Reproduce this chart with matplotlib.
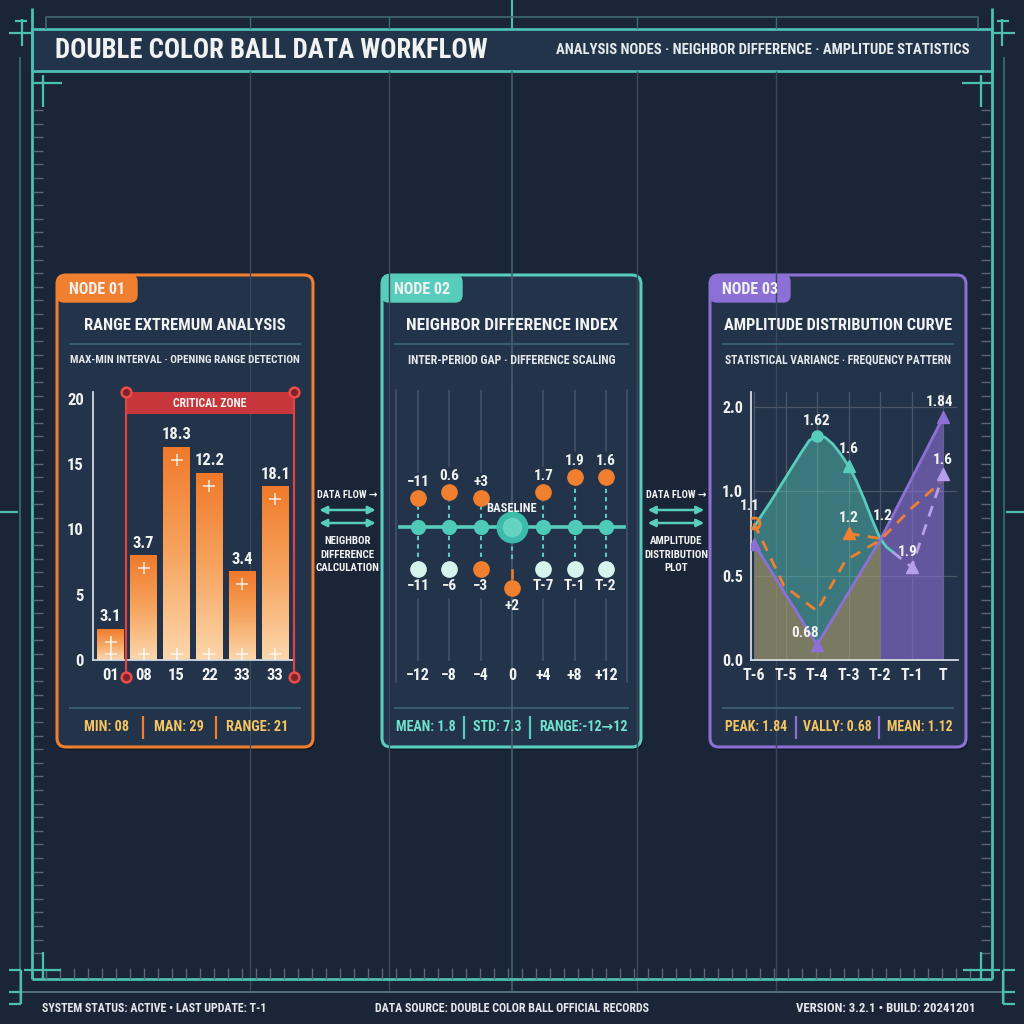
import numpy as np
import matplotlib
matplotlib.use("Agg")
import matplotlib.pyplot as plt
from matplotlib import font_manager
from matplotlib.patches import FancyBboxPatch, Rectangle, FancyArrowPatch
from matplotlib.colors import LinearSegmentedColormap

# ------------------------------
# Data
# ------------------------------
range_labels = ["01", "08", "15", "22", "33", "33"]
range_heights = [2.4, 8.0, 16.3, 14.3, 6.8, 13.3]
range_values = ["3.1", "3.7", "18.3", "12.2", "3.4", "18.1"]
range_yticks = [0, 5, 10, 15, 20]
range_stats = ["MIN: 08", "MAN: 29", "RANGE: 21"]

diff_positions = [-12, -8, -4, 0, 4, 8, 12]
diff_axis_labels = ["\u221212", "\u22128", "\u22124", "0", "+4", "+8", "+12"]
diff_top_level = [2.9, 3.5, 2.9, np.nan, 3.5, 5.0, 5.0]
diff_top_labels = ["\u221211", "0.6", "+3", "", "1.7", "1.9", "1.6"]
diff_low_level = [-4.2, -4.2, -4.2, -6.1, -4.2, -4.2, -4.2]
diff_low_labels = ["\u221211", "\u22126", "\u22123", "+2", "T-7", "T-1", "T-2"]
diff_low_hot = [False, False, True, True, False, False, False]
diff_stats = ["MEAN: 1.8", "STD: 7.3", "RANGE:-12\u219212"]

amp_periods = ["T-6", "T-5", "T-4", "T-3", "T-2", "T-1", "T"]
amp_ytick_pos = [0.0, 0.5, 1.0, 1.5]
amp_ytick_labels = ["0.0", "0.5", "1.0", "2.0"]
amp_teal_x = [0, 0.5, 1, 1.5, 1.75, 2, 2.25, 2.5, 2.75, 3, 3.25, 3.5, 3.75, 4, 4.2, 4.4]
amp_teal_y = [0.79, 0.93, 1.08, 1.23, 1.30, 1.33, 1.32, 1.28, 1.22, 1.15, 1.06, 0.95,
              0.83, 0.72, 0.67, 0.64]
amp_purple_x = [0, 2, 4, 6]
amp_purple_y = [0.69, 0.09, 0.71, 1.44]
amp_orange_x = [0, 0.95, 2, 2.9, 4, 5, 5.9]
amp_orange_y = [0.81, 0.44, 0.29, 0.59, 0.71, 0.90, 1.05]
amp_side_x = [3, 4]
amp_side_y = [0.75, 0.72]
amp_lilac_x = [4.4, 5, 6]
amp_lilac_y = [0.64, 0.55, 1.10]
amp_stats = ["PEAK: 1.84", "VALLY: 0.68", "MEAN: 1.12"]

# ------------------------------
# Style
# ------------------------------
BG = "#1a2638"
PANEL = "#233349"
TEAL = "#58cdbd"
FRAME = "#4dbfb2"
ORANGE = "#f0802f"
PURPLE = "#8d70d6"
LILAC = "#b6a0ec"
RED = "#de4542"
GOLD = "#f5c561"
GRID = "#4b5667"
WHITE = "#f1f3f2"

names = {f.name for f in font_manager.fontManager.ttflist}
FONT = "DejaVu Sans"
for cand in ["Liberation Sans Narrow", "Roboto Condensed", "Open Sans Condensed"]:
    if cand in names:
        FONT = cand
        break
K = 1.0 if FONT != "DejaVu Sans" else 0.8
plt.rcParams["font.family"] = [FONT, "DejaVu Sans"]
plt.rcParams["font.weight"] = "bold"

fig = plt.figure(figsize=(10.24, 10.24), dpi=100)
fig.patch.set_facecolor(BG)
bg = fig.add_axes([0, 0, 1, 1])
bg.set_xlim(0, 1024)
bg.set_ylim(1024, 0)
bg.axis("off")
renderer = fig.canvas.get_renderer()


def px_axes(x0, y0, x1, y1):
    return fig.add_axes([x0 / 1024, 1 - y1 / 1024, (x1 - x0) / 1024, (y1 - y0) / 1024])


def ln(xs, ys, color, lw, **kw):
    bg.plot(xs, ys, color=color, lw=lw, solid_capstyle="butt", **kw)


def fit_text(x, y, s, width, size, color=WHITE, ha="center", **kw):
    t = bg.text(x, y, s, fontsize=size, color=color, ha=ha, va="center",
                fontweight="bold", **kw)
    w = t.get_window_extent(renderer).width
    if w > width:
        t.set_fontsize(size * width / w)
    return t


def fit_group(items, size, color=WHITE):
    # items: (x, y, text, width); one common size for the whole group
    texts = [fit_text(x, y, s, w, size, color=color) for x, y, s, w in items]
    common = min(t.get_fontsize() for t in texts)
    for t in texts:
        t.set_fontsize(common)
    return texts


# ------------------------------
# Frame / background decoration
# ------------------------------
for x in [250, 389, 637, 776]:
    ln([x, x], [71, 992], "#3c4757", 1)
ln([512, 512], [71, 992], "#42606b", 1.2)
ln([512, 512], [0, 29], FRAME, 1.5)
ln([46, 46, 978, 978], [29, 17, 17, 29], "#3d6a74", 1.2)
for x in [250, 389, 637, 776]:
    ln([x, x], [17, 29], "#3d6a74", 1)

ln([32.3, 32.3], [8, 979.3], FRAME, 2)
ln([991.7, 991.7], [8, 979.3], FRAME, 2)
ln([32.3, 991.7], [979.3, 979.3], FRAME, 2)
ln([20, 20], [57, 1004], "#35707a", 1.2)
ln([1004, 1004], [57, 1004], "#35707a", 1.2)
ln([14, 1010], [992.3, 992.3], "#5a7486", 1.3)
for y in np.arange(110, 966, 13.6):
    ln([33, 43], [y, y], "#5b6676", 1)
    ln([981, 991], [y, y], "#5b6676", 1)
for x in np.arange(46, 980, 14):
    ln([x, x], [968, 979], "#5b6676", 1)

# crosshairs
ln([9, 32], [33, 33], FRAME, 1.6); ln([21.7, 21.7], [19, 46], FRAME, 1.6); ln([15, 27], [21, 21], FRAME, 1.6)
ln([992, 1015], [33, 33], FRAME, 1.6); ln([1002.3, 1002.3], [19, 46], FRAME, 1.6); ln([997, 1009], [21, 21], FRAME, 1.6)
ln([32, 62], [83, 83], FRAME, 1.6); ln([43, 43], [75, 107], FRAME, 1.6)
ln([962, 992], [83, 83], FRAME, 1.6); ln([981, 981], [75, 107], FRAME, 1.6)
ln([24, 61], [970, 970], FRAME, 1.6); ln([43, 43], [952, 979], FRAME, 1.6)
ln([963, 1000], [970, 970], FRAME, 1.6); ln([981, 981], [952, 979], FRAME, 1.6)
ln([21, 21], [970, 1004], FRAME, 1.6); ln([1003, 1003], [970, 1004], FRAME, 1.6)
for y in [970, 992, 1004]:
    ln([9, 21], [y, y], FRAME, 1.6)
    ln([1003, 1015], [y, y], FRAME, 1.6)
ln([0, 18], [512, 512], FRAME, 1.6)
ln([1006, 1024], [512, 512], FRAME, 1.6)

# header
bg.add_patch(Rectangle((32.3, 29), 959.4, 42, facecolor="#22344a", edgecolor=FRAME, lw=2))
fit_text(55, 50, "DOUBLE COLOR BALL DATA WORKFLOW", 433, 20, ha="left")
fit_text(970, 50, "ANALYSIS NODES \u00b7 NEIGHBOR DIFFERENCE \u00b7 AMPLITUDE STATISTICS",
         413, 12, ha="right", color="#e6ebee")

# footer
fit_text(42, 1008, "SYSTEM STATUS: ACTIVE \u2022 LAST UPDATE: T-1", 226, 10.5, ha="left", color="#e3e7ea")
fit_text(512, 1008, "DATA SOURCE: DOUBLE COLOR BALL OFFICIAL RECORDS", 278, 10.5, color="#e3e7ea")
fit_text(975, 1008, "VERSION: 3.2.1 \u2022 BUILD: 20241201", 179, 10.5, ha="right", color="#e3e7ea")


# ------------------------------
# Panels
# ------------------------------
def panel(x0, x1, color, tab, title, title_w, sub, sub_w, stats, stat_centers,
          stat_widths, bar_x, stat_color):
    bg.add_patch(FancyBboxPatch((x0 + 2, 278), x1 - x0, 472,
                                boxstyle="round,pad=0,rounding_size=9",
                                fc="#111a27", ec="none"))
    bg.add_patch(FancyBboxPatch((x0, 275), x1 - x0, 472,
                                boxstyle="round,pad=0,rounding_size=9",
                                fc=PANEL, ec=color, lw=2.2))
    bg.add_patch(FancyBboxPatch((x0, 275), 80, 27,
                                boxstyle="round,pad=0,rounding_size=7",
                                fc=color, ec=color, lw=1))
    fit_text(x0 + 12, 289, tab, 56, 13, ha="left")
    cx = (x0 + x1) / 2
    fit_text(cx, 325, title, title_w, 16)
    ln([x0 + 12, x1 - 12], [344, 344], "#3c6672", 1.2)
    fit_text(cx, 360, sub, sub_w, 10, color="#e4e8ea")
    ln([x0 + 12, x1 - 12], [708, 708], "#3c6672", 1.2)
    fit_group([(c, 727, s, w) for s, c, w in zip(stats, stat_centers, stat_widths)],
              14, color=stat_color)
    for b in bar_x:
        ln([b, b], [716, 739], color, 1.6)


panel(57, 313, ORANGE, "NODE 01", "RANGE EXTREMUM ANALYSIS", 201,
      "MAX-MIN INTERVAL \u00b7 OPENING RANGE DETECTION", 230,
      range_stats, [106, 179, 257], [50, 52, 62], [142.7, 215.7], GOLD)
panel(382, 641, TEAL, "NODE 02", "NEIGHBOR DIFFERENCE INDEX", 213,
      "INTER-PERIOD GAP \u00b7 DIFFERENCE SCALING", 209,
      diff_stats, [425.5, 497, 583], [60, 50, 92], [464, 530], "#6fe2cf")
panel(710, 966, PURPLE, "NODE 03", "AMPLITUDE DISTRIBUTION CURVE", 230,
      "STATISTICAL VARIANCE \u00b7 FREQUENCY PATTERN", 227,
      amp_stats, [755.7, 837, 920], [64, 70, 66], [796, 879.3], GOLD)

# flow connectors
for cx, lines in [(347.5, ["NEIGHBOR", "DIFFERENCE", "CALCULATION"]),
                  (676, ["AMPLITUDE", "DISTRIBUTION", "PLOT"])]:
    fit_text(cx, 495, "DATA FLOW \u2192", 60, 8.5)
    for y in [510, 523]:
        bg.add_patch(FancyArrowPatch((cx - 31, y), (cx + 31, y), arrowstyle="<|-|>",
                                     mutation_scale=11, color=TEAL, lw=1.8))
    fit_group([(cx, y, s, 64) for y, s in zip([541, 555, 568], lines)], 9)

# ------------------------------
# Node 01: range bars
# ------------------------------
ax1 = px_axes(93, 392, 293, 660)
ax1.set_facecolor("none")
xs = np.arange(len(range_heights))
bw = 0.81
bars = ax1.bar(xs, range_heights, width=bw, color=ORANGE, zorder=2)
cmap_bar = LinearSegmentedColormap.from_list("bar", ["#fcd7ac", "#f6a45f", "#f07a2b"])
grad = np.linspace(0, 1, 200).reshape(-1, 1)
for rect, h in zip(bars, range_heights):
    x = rect.get_x()
    im = ax1.imshow(grad, extent=[x, x + bw, 0, h], origin="lower", aspect="auto",
                    cmap=cmap_bar, zorder=2.5, interpolation="bilinear")
    im.set_clip_path(rect)
ax1.plot(xs, np.array(range_heights) - 1.0, ls="none", marker="+", ms=9, mew=1.1,
         color="white", alpha=0.85, zorder=3)
ax1.plot(xs, [0.45] * len(xs), ls="none", marker="+", ms=9, mew=1.1,
         color="white", alpha=0.85, zorder=3)
for x, h, v in zip(xs, range_heights, range_values):
    ax1.text(x, h + 0.35, v, ha="center", va="bottom", color=WHITE,
             fontsize=12 * K, fontweight="bold", zorder=4)

cz_left, cz_right = 0.46, 5.58
ax1.add_patch(Rectangle((cz_left, 18.8), cz_right - cz_left, 1.7, fc="#c7363b",
                        ec="none", zorder=4, clip_on=False))
ax1.text((cz_left + cz_right) / 2, 19.62, "CRITICAL ZONE", ha="center", va="center",
         color=WHITE, fontsize=8.5 * K, fontweight="bold", zorder=5)
for x in (cz_left, cz_right):
    ax1.plot([x, x], [20.5, -1.3], color=RED, lw=1.6, clip_on=False, zorder=5)
    ax1.plot([x, x], [20.5, -1.3], ls="none", marker="o", ms=7, mfc="#7a2430",
             mec="#ee4b47", mew=1.8, clip_on=False, zorder=6)

ax1.set_xlim(-0.538, 5.54)
ax1.set_ylim(0, 20.5)
ax1.set_xticks(xs, range_labels)
ax1.set_yticks(range_yticks)
ax1.tick_params(length=0, colors=WHITE, labelsize=12 * K)
ax1.tick_params(axis="y", pad=6.5)
ax1.tick_params(axis="x", pad=6)
for side in ["top", "right"]:
    ax1.spines[side].set_visible(False)
for side in ["left", "bottom"]:
    ax1.spines[side].set_color("#d5dadf")
    ax1.spines[side].set_linewidth(1.3)

# ------------------------------
# Node 02: neighbor difference
# ------------------------------
ax2 = px_axes(396, 390, 627, 682)
ax2.axis("off")
ax2.set_xlim(-14.8, 14.7)
ax2.set_ylim(-15.5, 13.7)
for x in (-14.8, 14.7):
    ax2.plot([x, x], [-15.5, 13.7], color=GRID, lw=1.1, clip_on=False)
ax2.plot([-14.3, 14.3], [0, 0], color=TEAL, lw=2.6, zorder=3)
MINT = "#d6f4ec"
for x, top, tl, low, ll, hot, al in zip(diff_positions, diff_top_level, diff_top_labels,
                                        diff_low_level, diff_low_labels, diff_low_hot,
                                        diff_axis_labels):
    top_end = 2.6 if np.isnan(top) else top + 2.6
    ax2.plot([x, x], [13.7, top_end], color=GRID, lw=1.1)
    ax2.plot([x, x], [low - 3.0, -13.3], color=GRID, lw=1.1)
    if not np.isnan(top):
        ax2.plot([x, x], [0.9, top - 0.9], color=TEAL, lw=1.5, ls=(0, (2, 2)))
        ax2.plot([x], [top], marker="o", ms=11, color=ORANGE, zorder=4)
        ax2.text(x, top + 1.6, tl, ha="center", va="center", color=WHITE,
                 fontsize=11 * K, fontweight="bold")
    if low < -5:
        ax2.plot([x, x], [-1.1, -3.4], color=TEAL, lw=1.5, ls=(0, (2, 2)))
        ax2.plot([x, x], [-4.3, -5.1], color=ORANGE, lw=1.8)
    else:
        ax2.plot([x, x], [-0.9, low + 0.9], color=TEAL, lw=1.5, ls=(0, (2, 2)))
    ax2.plot([x], [low], marker="o", ms=11, color=ORANGE if hot else MINT, zorder=4)
    ax2.text(x, low - 1.75, ll, ha="center", va="center", color=WHITE,
             fontsize=11 * K, fontweight="bold")
    ax2.text(x, -14.9, al, ha="center", va="center", color=WHITE,
             fontsize=11.5 * K, fontweight="bold")
    if x == 0:
        ax2.plot([x], [0], marker="o", ms=22, color="#3dbcab", zorder=5)
        ax2.plot([x], [0], marker="o", ms=13, color="#6fd9c8", alpha=0.8, zorder=6)
        ax2.text(x, 1.8, "BASELINE", ha="center", va="center", color=WHITE,
                 fontsize=9 * K, fontweight="bold", zorder=7)
    else:
        ax2.plot([x], [0], marker="o", ms=10, color="#4ecab8", zorder=5)

# ------------------------------
# Node 03: amplitude distribution
# ------------------------------
ax3 = px_axes(750.7, 391.7, 958, 660)
ax3.set_facecolor("none")
ax3.set_xlim(-0.105, 6.47)
ax3.set_ylim(0, 1.59)
for i in range(len(amp_periods)):
    ax3.plot([i, i], [0, 1.59], color=GRID, lw=0.9, zorder=1)
for y in amp_ytick_pos[1:]:
    ax3.plot([0, 6.4], [y, y], color=GRID, lw=0.9, zorder=1)
n_teal = amp_teal_x.index(4) + 1
ax3.fill_between(amp_teal_x[:n_teal], amp_teal_y[:n_teal], 0, color=TEAL, alpha=0.45,
                 lw=0, zorder=2)
ax3.fill_between(amp_purple_x[:3], amp_purple_y[:3], 0, color=ORANGE, alpha=0.35,
                 lw=0, zorder=2.1)
ax3.fill_between(amp_purple_x[2:], amp_purple_y[2:], 0, color=PURPLE, alpha=0.6,
                 lw=0, zorder=2.2)
ax3.plot(amp_teal_x, amp_teal_y, color=TEAL, lw=2, zorder=4)
ax3.plot(amp_purple_x, amp_purple_y, color=PURPLE, lw=2, zorder=4)
ax3.plot(amp_orange_x, amp_orange_y, color=ORANGE, lw=2, ls=(0, (4, 3)), zorder=5)
ax3.plot(amp_side_x, amp_side_y, color=ORANGE, lw=2, ls=(0, (4, 3)), zorder=5)
ax3.plot(amp_lilac_x, amp_lilac_y, color=LILAC, lw=2, ls=(0, (4, 3)), zorder=5)

i_peak = amp_teal_y.index(max(amp_teal_y))
i_t3 = amp_teal_x.index(3)
ax3.plot([amp_teal_x[i_peak]], [amp_teal_y[i_peak]], marker="o", ms=8, color=TEAL, zorder=6)
ax3.plot([amp_teal_x[i_t3]], [amp_teal_y[i_t3]], marker="^", ms=8, color=TEAL, zorder=6)
ax3.plot([amp_orange_x[0]], [amp_orange_y[0]], marker="o", ms=8, mfc="none",
         mec=ORANGE, mew=2, zorder=6)
ax3.plot([amp_side_x[0]], [amp_side_y[0]], marker="^", ms=8, color=ORANGE, zorder=6)
ax3.plot([amp_purple_x[i] for i in (0, 1, 3)], [amp_purple_y[i] for i in (0, 1, 3)],
         ls="none", marker="^", ms=9, color=PURPLE, zorder=6)
ax3.plot(amp_lilac_x[1:], amp_lilac_y[1:], ls="none", marker="^", ms=9, color=LILAC,
         zorder=6)

amp_notes = [
    ("1.1", amp_orange_x[0], amp_orange_y[0], -4, 17),
    ("1.62", amp_teal_x[i_peak], amp_teal_y[i_peak], 0, 15),
    ("1.6", amp_teal_x[i_t3], amp_teal_y[i_t3], 0, 17),
    ("1.2", amp_side_x[0], amp_side_y[0], 0, 15),
    ("1.2", amp_purple_x[2], amp_purple_y[2], 3, 24),
    ("1.9", amp_lilac_x[1], amp_lilac_y[1], -4, 15),
    ("0.68", amp_purple_x[1], amp_purple_y[1], -12, 12),
    ("1.84", amp_purple_x[3], amp_purple_y[3], -4, 15),
    ("1.6", amp_lilac_x[2], amp_lilac_y[2], 0, 14),
]
for s, x, y, dx, dy in amp_notes:
    ax3.annotate(s, (x, y), xytext=(dx, dy), textcoords="offset pixels",
                 ha="center", va="center", color=WHITE, fontsize=11 * K,
                 fontweight="bold", zorder=8)

ax3.set_xticks(range(len(amp_periods)), amp_periods)
ax3.set_yticks(amp_ytick_pos, amp_ytick_labels)
ax3.tick_params(length=0, colors=WHITE, labelsize=11.5 * K)
ax3.tick_params(axis="y", pad=5.5)
ax3.tick_params(axis="x", pad=6)
for side in ["top", "right"]:
    ax3.spines[side].set_visible(False)
for side in ["left", "bottom"]:
    ax3.spines[side].set_color("#d5dadf")
    ax3.spines[side].set_linewidth(1.3)

fig.savefig("out.png", dpi=100, facecolor=BG)
